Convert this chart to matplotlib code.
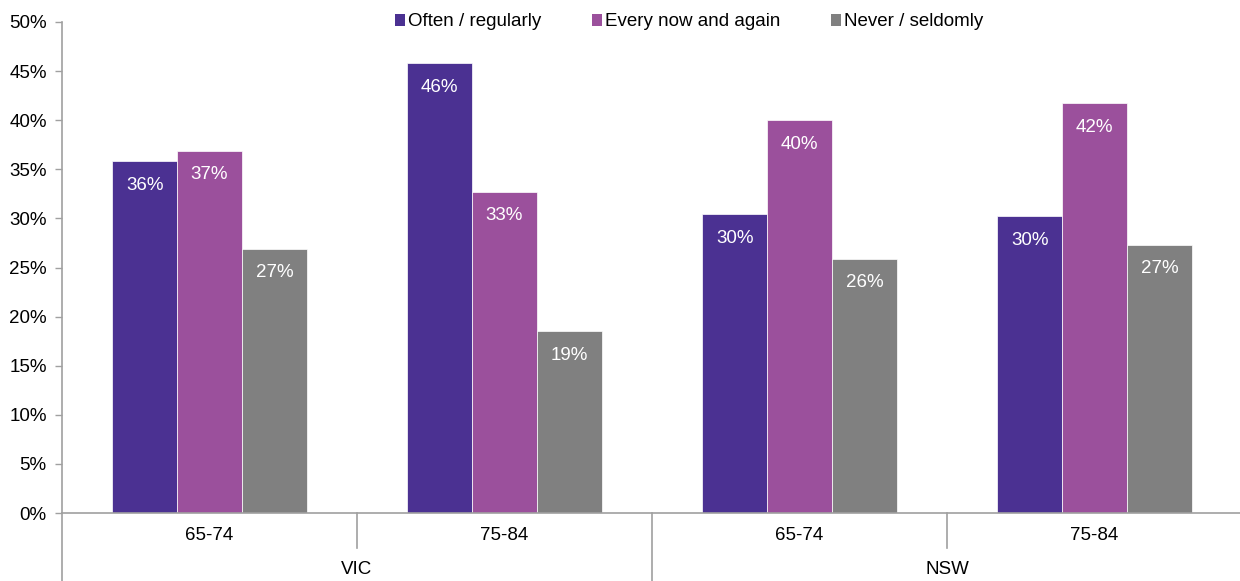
import matplotlib
matplotlib.use("Agg")
import matplotlib.pyplot as plt
import matplotlib.transforms as mtransforms
from matplotlib.patches import Patch
import numpy as np

plt.rcParams['font.family'] = ['Liberation Sans', 'DejaVu Sans']

age_groups = ["65-74", "75-84", "65-74", "75-84"]
states = ["VIC", "NSW"]
series_names = ["Often / regularly", "Every now and again", "Never / seldomly"]
often = [35.8, 45.8, 30.4, 30.2]
every = [36.9, 32.7, 40.0, 41.75]
never = [26.9, 18.5, 25.9, 27.3]
labels_often = ["36%", "46%", "30%", "30%"]
labels_every = ["37%", "33%", "40%", "42%"]
labels_never = ["27%", "19%", "26%", "27%"]
colors = ["#4B3192", "#9B509C", "#808080"]
y_ticks = [0, 5, 10, 15, 20, 25, 30, 35, 40, 45, 50]

FS = 13.5
W, H = 1240, 581
fig = plt.figure(figsize=(W / 100, H / 100), dpi=100)
left, right, top, bottom = 62, 1240, 22, 513
ax = fig.add_axes([left / W, (H - bottom) / H, (right - left) / W, (bottom - top) / H])

x = np.arange(len(age_groups))
bw = 0.22
series = [often, every, never]
labs = [labels_often, labels_every, labels_never]
for i, (vals, lab, col) in enumerate(zip(series, labs, colors)):
    pos = x + (i - 1) * bw
    bars = ax.bar(pos, vals, width=bw, color=col, edgecolor='#ffffff', linewidth=0.5, zorder=2)
    for b, t in zip(bars, lab):
        ax.annotate(t, (b.get_x() + b.get_width() / 2, b.get_height()),
                    xytext=(0, -24), textcoords='offset pixels',
                    ha='center', va='center', color='white', fontsize=FS)

ax.set_ylim(0, 50)
ax.set_xlim(-0.5, 3.5 - 2 / 295)
ax.set_yticks(y_ticks)
ax.set_yticklabels([f"{v}%" for v in y_ticks], fontsize=FS)
ax.tick_params(axis='y', direction='out', length=5, width=1, color='#A0A0A0', pad=6)
ax.set_xticks([])
for s in ['top', 'right']:
    ax.spines[s].set_visible(False)
for s in ['left', 'bottom']:
    ax.spines[s].set_color('#A0A0A0')
    ax.spines[s].set_linewidth(1.2)

trans = mtransforms.blended_transform_factory(ax.transData, ax.transAxes)
axh = bottom - top
short = -35 / axh
longe = -(H - bottom) / axh
for xs in [0.5, 2.5]:
    ax.plot([xs, xs], [0, short], transform=trans, color='#A0A0A0', lw=1.2, clip_on=False)
for xs in [-0.5, 1.5]:
    ax.plot([xs, xs], [0, longe], transform=trans, color='#A0A0A0', lw=1.2, clip_on=False)

for xi, g in zip(x, age_groups):
    ax.text(xi, -23 / axh, g, transform=trans, ha='center', va='center', fontsize=FS)
for xi, st in zip([0.5, 2.5], states):
    ax.text(xi, -56 / axh, st, transform=trans, ha='center', va='center', fontsize=FS)

handles = [Patch(facecolor=c, edgecolor='none') for c in colors]
fig.legend(handles, series_names, loc='center', ncol=3, frameon=False,
           bbox_to_anchor=(689 / W, (H - 22) / H), fontsize=FS,
           handlelength=0.55, handleheight=0.55, handletextpad=0.15,
           columnspacing=2.7, borderaxespad=0)

fig.savefig("out.png", dpi=100)
